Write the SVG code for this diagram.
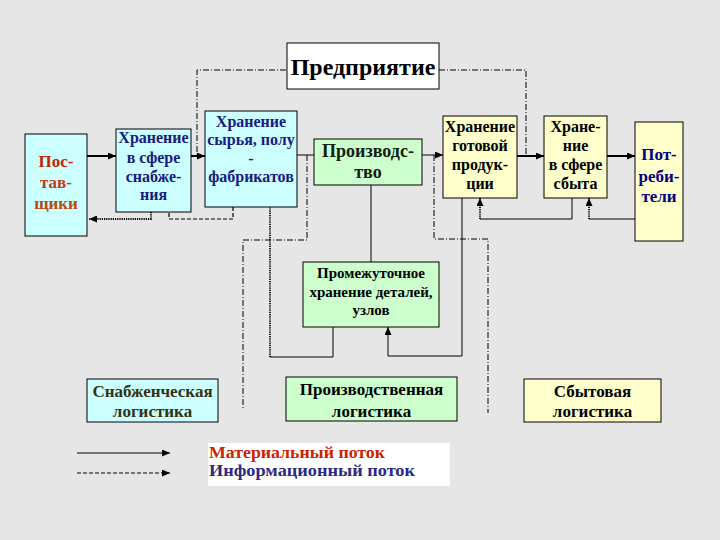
<svg xmlns="http://www.w3.org/2000/svg" width="720" height="540" viewBox="0 0 720 540">
<defs>
<style>
.box{stroke:#000;stroke-width:1}
.cy{fill:#ccffff}
.gr{fill:#ccffcc}
.ye{fill:#ffffcc}
.t{font-weight:bold;text-anchor:middle}
.s{fill:none;stroke:#000;stroke-width:1}
.s2{fill:none;stroke:#000;stroke-width:2}
.dot{fill:none;stroke:#000;stroke-width:1.8;stroke-dasharray:1.2,1}
.dash{fill:none;stroke:#000;stroke-width:1.2;stroke-dasharray:4,2}
.dd{fill:none;stroke:#000;stroke-width:1;stroke-dasharray:6,2,1,2}
</style>
<marker id="arr" markerWidth="8" markerHeight="7" refX="8" refY="3.5" orient="auto" markerUnits="userSpaceOnUse">
<path d="M0,0 L8,3.5 L0,7 z" fill="#000"/>
</marker>
</defs>
<rect x="0" y="0" width="720" height="540" fill="#e6e6e6"/>

<g id="connectors">
<path class="dd" d="M286,70 L197,70 L197,156"/>
<path class="dd" d="M439,70 L526,70 L526,156"/>
<path class="dd" d="M307,155 L307,240 L243,240 L243,410"/>
<path class="dd" d="M434,155 L434,239 L488,239 L488,413"/>
<path class="s2" d="M87,156 L116,156" marker-end="url(#arr)"/>
<path class="s2" d="M191,156 L205,156" marker-end="url(#arr)"/>
<path class="dot" d="M151,212 L151,219 L89,219" marker-end="url(#arr)"/>
<path class="dash" d="M233,207 L233,219 L169,219 L169,212"/>
<path class="s" d="M297,155 L314,155"/>
<path class="s" d="M371,185 L371,262"/>
<path class="s" d="M333,327 L333,357 L270,357"/>
<path class="dot" d="M270,357 L270,207"/>
<path class="s" d="M422,155 L443,155" marker-end="url(#arr)"/>
<path class="s" d="M462,198 L462,356 L388,356 L388,327" marker-end="url(#arr)"/>
<path class="s2" d="M517,156 L544,156" marker-end="url(#arr)"/>
<path class="s2" d="M607,156 L635,156" marker-end="url(#arr)"/>
<path class="s" d="M572,198 L572,219 L480,219"/>
<path class="dot" d="M480,219 L480,198" marker-end="url(#arr)"/>
<path class="s" d="M635,219 L589,219"/>
<path class="dot" d="M589,219 L589,198" marker-end="url(#arr)"/>
</g>

<g font-family="Liberation Serif, Times New Roman, serif">
<g id="predpriyatie">
<rect x="287" y="43" width="152" height="46" fill="#fff" class="box"/>
<text class="t" x="363" y="75" font-size="24">Предприятие</text>
</g>

<g id="postavshchiki">
<rect x="25" y="134" width="62" height="102" class="box cy"/>
<text class="t" x="56" y="167" font-size="17" fill="#cc2200">Пос-</text>
<text class="t" x="56" y="188" font-size="17" fill="#c43a10">тав-</text>
<text class="t" x="56" y="209" font-size="17" fill="#b84a10">щики</text>
</g>

<g id="khranenie-snabzheniya">
<rect x="116" y="129" width="75" height="83" class="box cy"/>
<text class="t" x="153.5" y="143" font-size="16" fill="#1a1a80">Хранение</text>
<text class="t" x="153.5" y="163" font-size="16" fill="#1a1a80">в сфере</text>
<text class="t" x="153.5" y="182" font-size="16" fill="#1a1a80">снабже-</text>
<text class="t" x="153.5" y="200" font-size="16" fill="#1a1a80">ния</text>
</g>

<g id="khranenie-syrya">
<rect x="205" y="111" width="92" height="96" class="box cy"/>
<text class="t" x="251" y="127" font-size="16" fill="#1a1a80">Хранение</text>
<text class="t" x="251" y="145" font-size="16" fill="#1a1a80">сырья, полу</text>
<text class="t" x="251" y="164" font-size="16" fill="#1a1a80">-</text>
<text class="t" x="251" y="182" font-size="16" fill="#1a1a80">фабрикатов</text>
</g>

<g id="proizvodstvo">
<rect x="314" y="139" width="108" height="46" class="box gr"/>
<text class="t" x="368" y="157" font-size="18" fill="#102010">Производс-</text>
<text class="t" x="368" y="178" font-size="18" fill="#102010">тво</text>
</g>

<g id="promezhutochnoe">
<rect x="303" y="262" width="136" height="65" class="box gr"/>
<text class="t" x="371" y="278" font-size="15" fill="#000">Промежуточное</text>
<text class="t" x="371" y="297" font-size="15" fill="#000">хранение деталей,</text>
<text class="t" x="371" y="315" font-size="15" fill="#000">узлов</text>
</g>

<g id="khranenie-gotovoy">
<rect x="443" y="116" width="74" height="82" class="box ye"/>
<text class="t" x="480" y="132" font-size="16" fill="#000">Хранение</text>
<text class="t" x="480" y="151" font-size="16" fill="#000">готовой</text>
<text class="t" x="480" y="170" font-size="16" fill="#000">продук-</text>
<text class="t" x="480" y="189" font-size="16" fill="#000">ции</text>
</g>

<g id="khranenie-sbyta">
<rect x="544" y="116" width="63" height="82" class="box ye"/>
<text class="t" x="575.5" y="132" font-size="16" fill="#000">Хране-</text>
<text class="t" x="575.5" y="151" font-size="16" fill="#000">ние</text>
<text class="t" x="575.5" y="170" font-size="16" fill="#000">в сфере</text>
<text class="t" x="575.5" y="189" font-size="16" fill="#000">сбыта</text>
</g>

<g id="potrebiteli">
<rect x="635" y="122" width="48" height="119" class="box ye"/>
<text class="t" x="659" y="160" font-size="17" fill="#000080">Пот-</text>
<text class="t" x="659" y="182" font-size="17" fill="#000080">реби-</text>
<text class="t" x="659" y="202" font-size="17" fill="#000080">тели</text>
</g>

<g id="snabzhencheskaya">
<rect x="87" y="379" width="131" height="43" class="box cy"/>
<text class="t" x="152.5" y="397" font-size="17" fill="#333311">Снабженческая</text>
<text class="t" x="152.5" y="417" font-size="17" fill="#333311">логистика</text>
</g>

<g id="proizvodstvennaya">
<rect x="286" y="377" width="171" height="44" class="box gr"/>
<text class="t" x="371.5" y="395" font-size="17" fill="#000">Производственная</text>
<text class="t" x="371.5" y="417" font-size="17" fill="#000">логистика</text>
</g>

<g id="sbytovaya">
<rect x="524" y="379" width="137" height="43" class="box ye"/>
<text class="t" x="592.5" y="397" font-size="17" fill="#000">Сбытовая</text>
<text class="t" x="592.5" y="417" font-size="17" fill="#000">логистика</text>
</g>

<g id="legend">
<path class="s" d="M77,453 L170,453" marker-end="url(#arr)"/>
<path class="dash" d="M77,473 L170,473" marker-end="url(#arr)"/>
<rect x="208" y="443" width="242" height="43" fill="#fff"/>
<text x="209" y="458" font-weight="bold" font-size="16" fill="#cc2200" textLength="176" lengthAdjust="spacingAndGlyphs">Материальный поток</text>
<text x="209" y="476" font-weight="bold" font-size="16" fill="#2a2a80" textLength="206" lengthAdjust="spacingAndGlyphs">Информационный поток</text>
</g>
</g>
</svg>
